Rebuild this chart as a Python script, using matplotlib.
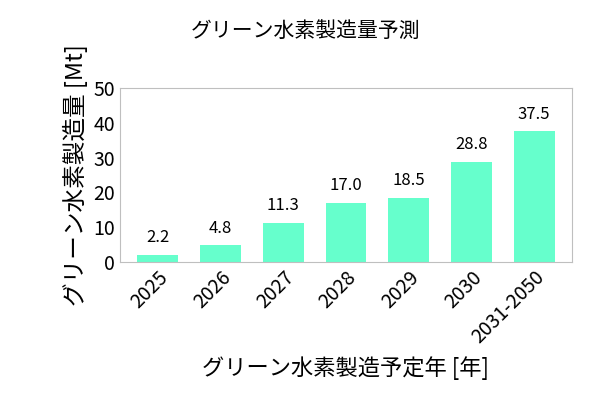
import matplotlib
matplotlib.use("Agg")
import matplotlib.pyplot as plt

plt.rcParams["font.family"] = "Noto Sans CJK JP"

# chart data
years = ["2025", "2026", "2027", "2028", "2029", "2030", "2031-2050"]
production = [2.2, 4.8, 11.3, 17.0, 18.5, 28.8, 37.5]
y_ticks = [0, 10, 20, 30, 40, 50]

fig = plt.figure(figsize=(6, 4.09), dpi=100)
ax = fig.add_axes([0.2, 0.359, 0.753, 0.426])

bars = ax.bar(years, production, width=0.65, color="#66FFCC")
for b, v in zip(bars, production):
    ax.text(b.get_x() + b.get_width() / 2, v + 2.5, f"{v:.1f}",
            ha="center", va="bottom", fontsize=12)

ax.set_ylim(0, 50)
ax.set_yticks(y_ticks)
ax.set_xlim(-0.6, len(years) - 0.4)
for s in ax.spines.values():
    s.set_color("#bfbfbf")
ax.tick_params(axis="both", length=0, labelsize=14)
plt.setp(ax.get_xticklabels(), rotation=45, ha="right", rotation_mode="anchor")

fig.text(0.51, 0.925, "グリーン水素製造量予測", fontsize=15, ha="center", va="center")
ax.set_ylabel("グリーン水素製造量 [Mt]", fontsize=17, labelpad=4)
ax.set_xlabel("グリーン水素製造予定年 [年]", fontsize=16, labelpad=6)

fig.savefig("out.png", dpi=100)
